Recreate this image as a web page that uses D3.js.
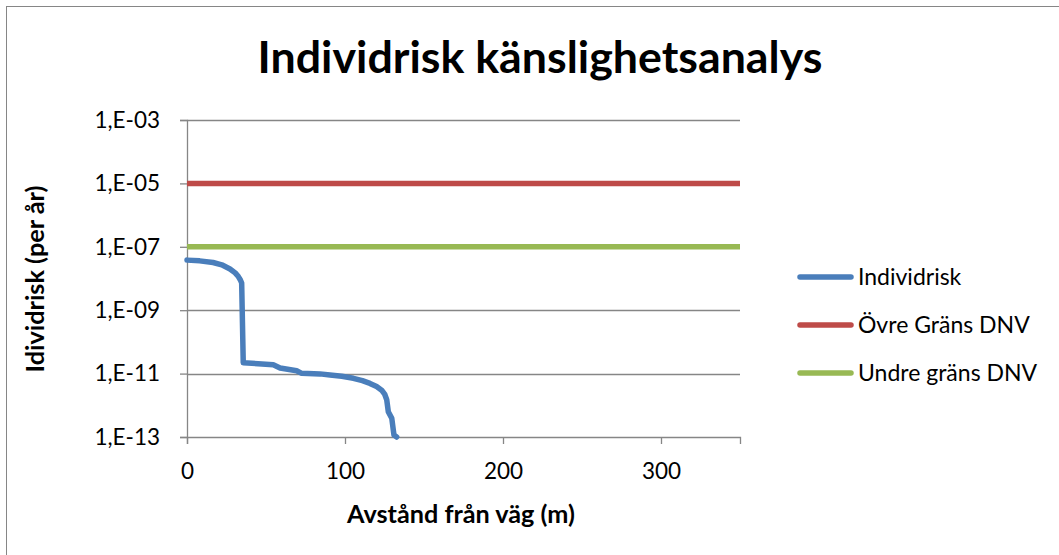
<!DOCTYPE html>
<html>
<head>
<meta charset="utf-8">
<script src="https://cdn.jsdelivr.net/npm/d3@7"></script>
<style>
  html, body { margin: 0; padding: 0; background: #fff; }
  svg { display: block; }
  text { font-family: Lato, "Open Sans", sans-serif; fill: #000; }
</style>
</head>
<body>
<svg id="chart" width="1059" height="555"></svg>
<script>
// ---- data ----
const title = "Individrisk känslighetsanalys";
const xTitle = "Avstånd från väg (m)";
const yTitle = "Idividrisk (per år)";
const distance = [0, 8, 16.5, 22, 27.2, 30.5, 32.5, 33.8, 34.6, 35.6, 45, 54.6, 58.9, 69.4, 72.6, 84.2, 90.5, 98, 105.3, 111, 115.8, 120, 123.2, 125.2, 126.4, 127.4, 129.6, 131.0, 132.7];
const individrisk = [3.8e-8, 3.6e-8, 3.2e-8, 2.7e-8, 2.0e-8, 1.5e-8, 1.15e-8, 9.0e-9, 7.2e-9, 2.2e-11, 2.05e-11, 1.9e-11, 1.5e-11, 1.23e-11, 1.02e-11, 9.8e-12, 9.1e-12, 8.2e-12, 7.1e-12, 6.0e-12, 4.9e-12, 3.9e-12, 3.0e-12, 2.2e-12, 1.5e-12, 6.3e-13, 3.9e-13, 1.15e-13, 1.0e-13];
const limitX = [0, 350];
const ovreGrans = [1e-5, 1e-5];
const undreGrans = [1e-7, 1e-7];
const seriesNames = ["Individrisk", "Övre Gräns DNV", "Undre gräns DNV"];
const seriesColors = ["#4A7EBB", "#BE4B48", "#98B954"];
const xTicks = [0, 100, 200, 300];
const yTicks = [1e-3, 1e-5, 1e-7, 1e-9, 1e-11, 1e-13];
const yTickLabels = ["1,E-03", "1,E-05", "1,E-07", "1,E-09", "1,E-11", "1,E-13"];

// ---- layout ----
const svg = d3.select("#chart");
const plot = { left: 187, right: 740, top: 120, bottom: 437 };
const gridColor = "#868686";

const x = d3.scaleLinear().domain([0, 350]).range([plot.left, plot.right]);
const y = d3.scaleLog().domain([1e-13, 1e-3]).range([plot.bottom, plot.top]);

// outer chart border (only top/left visible)
svg.append("rect")
  .attr("x", 6.5).attr("y", 6.5).attr("width", 1200).attr("height", 800)
  .attr("fill", "none").attr("stroke", gridColor).attr("stroke-width", 1);

function fitText(sel, target) {
  const w = sel.node().getComputedTextLength();
  const fs = parseFloat(sel.attr("font-size"));
  sel.attr("font-size", fs * target / w);
}

// title
const t = svg.append("text")
  .attr("x", 540).attr("y", 73)
  .attr("text-anchor", "middle")
  .attr("font-size", 40).attr("font-weight", "bold")
  .text(title);
fitText(t, 565);

// gridlines
svg.append("g").selectAll("line")
  .data(yTicks.filter(d => d !== 1e-13))
  .join("line")
  .attr("x1", plot.left).attr("x2", plot.right)
  .attr("y1", d => Math.round(y(d)) + 0.5).attr("y2", d => Math.round(y(d)) + 0.5)
  .attr("stroke", gridColor).attr("stroke-width", 1.3);

// y axis
const yAxis = d3.axisLeft(y)
  .tickValues(yTicks)
  .tickFormat((d, i) => yTickLabels[i])
  .tickSize(7).tickPadding(20);
const gy = svg.append("g").attr("transform", `translate(${plot.left},0)`).call(yAxis);
gy.select(".domain").attr("stroke", gridColor).attr("stroke-width", 1.3);
gy.selectAll(".tick line").attr("stroke", gridColor).attr("stroke-width", 1.3);
gy.selectAll(".tick text").attr("font-size", 22.5).attr("font-family", "Lato, sans-serif").attr("fill", "#000");

// x axis
const xAxis = d3.axisBottom(x)
  .tickValues(xTicks)
  .tickFormat(d3.format("d"))
  .tickSize(7).tickPadding(19);
const gx = svg.append("g").attr("transform", `translate(0,${plot.bottom})`).call(xAxis);
gx.select(".domain").attr("stroke", gridColor).attr("stroke-width", 1.3);
gx.selectAll(".tick line").attr("stroke", gridColor).attr("stroke-width", 1.3);
gx.selectAll(".tick text").attr("font-size", 22.5).attr("font-family", "Lato, sans-serif").attr("fill", "#000");

// axis titles
const xt = svg.append("text")
  .attr("x", 461).attr("y", 523)
  .attr("text-anchor", "middle")
  .attr("font-size", 20).attr("font-weight", "bold")
  .text(xTitle);
fitText(xt, 228);

const yt = svg.append("text")
  .attr("transform", "translate(44,279) rotate(-90)")
  .attr("text-anchor", "middle")
  .attr("font-size", 20).attr("font-weight", "bold")
  .text(yTitle);
fitText(yt, 187);

// series
const line = d3.line().x(d => x(d[0])).y(d => y(d[1]));
const series = [
  d3.zip(distance, individrisk),
  d3.zip(limitX, ovreGrans),
  d3.zip(limitX, undreGrans)
];
const drawOrder = [1, 2, 0];
drawOrder.forEach(i => {
  svg.append("path")
    .datum(series[i])
    .attr("d", line)
    .attr("fill", "none")
    .attr("stroke", seriesColors[i])
    .attr("stroke-width", 5.5)
    .attr("stroke-linejoin", "round")
    .attr("stroke-linecap", i === 0 ? "round" : "butt");
});

// legend
const legendY = [277, 325, 373];
const lg = svg.append("g");
seriesNames.forEach((name, i) => {
  lg.append("line")
    .attr("x1", 800).attr("x2", 851)
    .attr("y1", legendY[i]).attr("y2", legendY[i])
    .attr("stroke", seriesColors[i]).attr("stroke-width", 5.5)
    .attr("stroke-linecap", "round");
  const tx = lg.append("text")
    .attr("x", 858).attr("y", legendY[i] + 8)
    .attr("font-size", 23)
    .text(name);
});
</script>
</body>
</html>
